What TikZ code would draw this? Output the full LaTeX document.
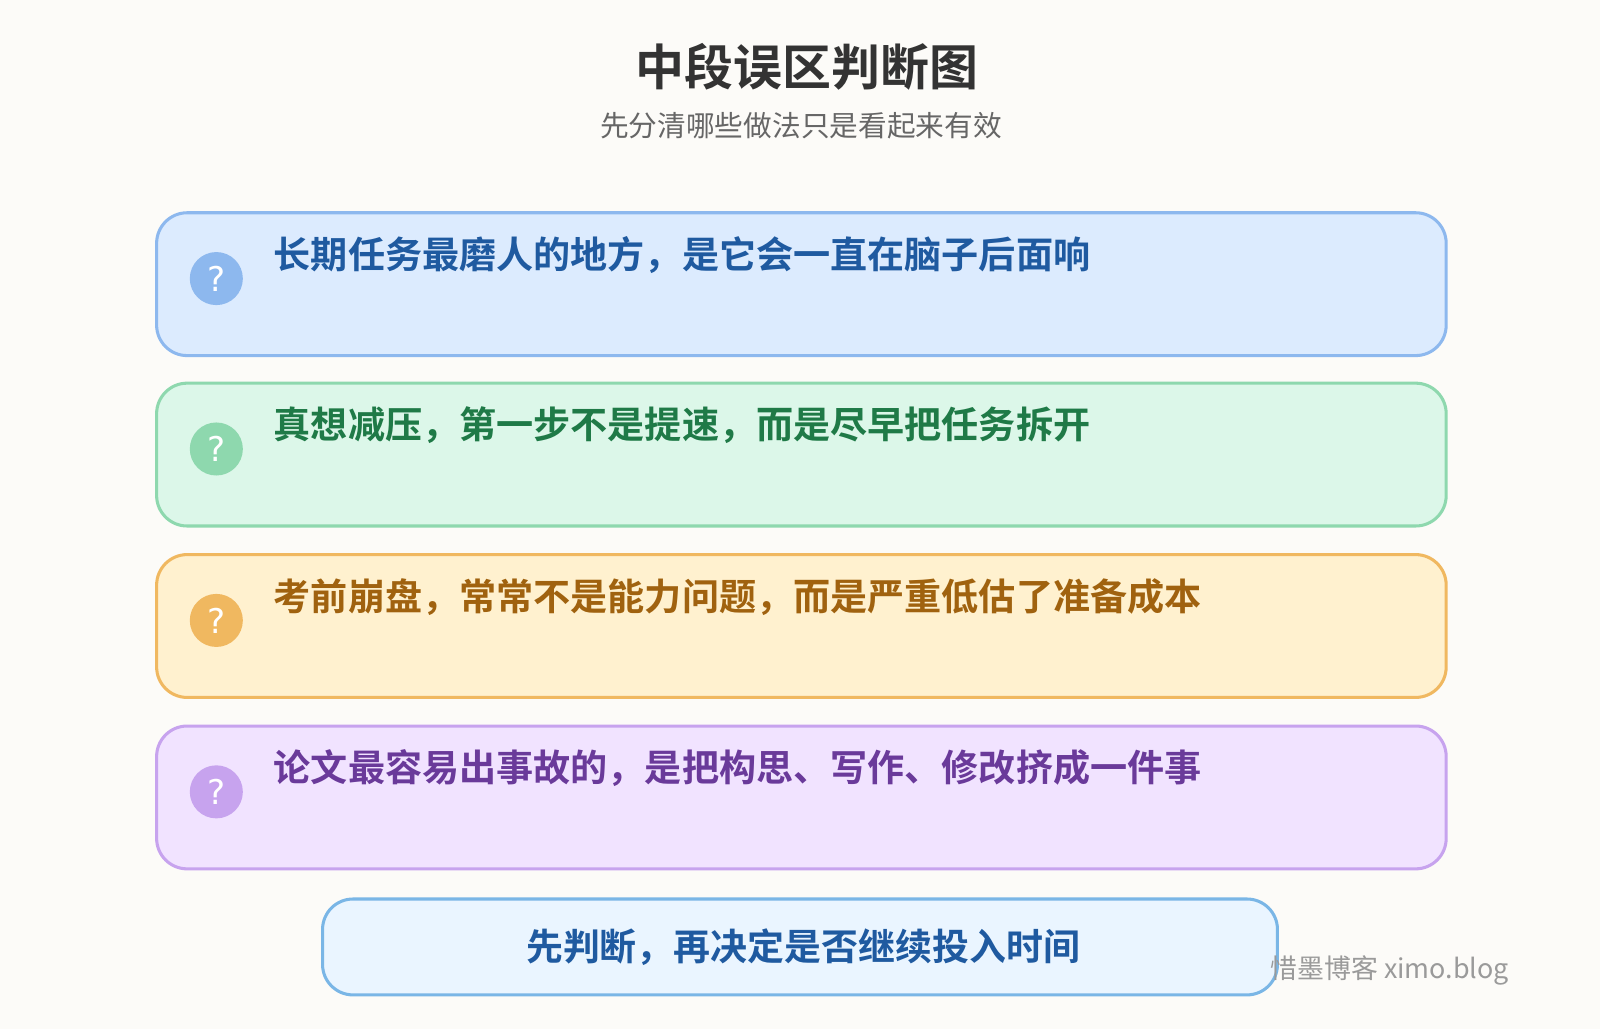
\documentclass[tikz,border=0pt]{standalone}
\usepackage{fontspec}
\setmainfont{Noto Sans CJK SC}
\newfontfamily\cjkbold{Noto Sans CJK SC Bold}
\newfontfamily\marksans{DejaVu Sans}
\usetikzlibrary{positioning}
\definecolor{bgcol}{HTML}{FCFBF8}
\definecolor{bluefill}{HTML}{DCEBFE}\definecolor{blueline}{HTML}{8DB8EE}\definecolor{bluetext}{HTML}{1F5AA0}
\definecolor{greenfill}{HTML}{DCF7E9}\definecolor{greenline}{HTML}{8ED8AE}\definecolor{greentext}{HTML}{1F7A47}
\definecolor{orangefill}{HTML}{FFF1CF}\definecolor{orangeline}{HTML}{F0B860}\definecolor{orangetext}{HTML}{A0620F}
\definecolor{purplefill}{HTML}{F1E3FF}\definecolor{purpleline}{HTML}{C7A3EE}\definecolor{purpletext}{HTML}{6A3A9A}
\definecolor{notefill}{HTML}{EAF5FF}\definecolor{noteline}{HTML}{7AB6E6}
\tikzset{
  card/.style={draw=#1line, fill=#1fill, line width=1.7pt, rounded corners=17pt,
    minimum width=25.28cm, minimum height=2.8cm, anchor=north west},
  mark/.style={circle, fill=#1line, minimum size=1.04cm, inner sep=0pt, text=white},
  cardtext/.style={anchor=base west, inner sep=0pt, text=#1text, font=\cjkbold\fontsize{20.7}{24}\selectfont},
}
\begin{document}
\begin{tikzpicture}[x=0.02cm,y=-0.02cm]
\fill[bgcol] (0,0) rectangle (1568,1008);
\useasboundingbox (0,0) rectangle (1568,1008);
\node (title) at (791,65) {\cjkbold\fontsize{27.3}{30}\selectfont\color[HTML]{333333}中段误区判断图};
\node (sub) at (785,123) {\fontsize{16}{19}\selectfont\color[HTML]{666666}先分清哪些做法只是看起来有效};
% cards
\foreach \c/\y/\t [count=\i] in {
  blue/207/长期任务最磨人的地方，是它会一直在脑子后面响,
  green/374/真想减压，第一步不是提速，而是尽早把任务拆开,
  orange/542/考前崩盘，常常不是能力问题，而是严重低估了准备成本,
  purple/710/论文最容易出事故的，是把构思、写作、修改挤成一件事}{
  \node[card=\c] (card\i) at (152,\y) {};
  \node[mark=\c] (mark\i) at (212,\y+66) {\marksans\fontsize{19}{21}\selectfont ?};
  \node[cardtext=\c] (text\i) at (268,\y+56) {\t};
}
\node[draw=noteline, fill=notefill, line width=1.7pt, rounded corners=17pt,
  minimum width=18.72cm, minimum height=1.88cm] (note) at (784,928) {};
\node (notetext) at (787,928)
  {\cjkbold\fontsize{20.6}{24}\selectfont\color{bluetext}先判断，再决定是否继续投入时间};
\node (mark) at (1362,951) {\fontsize{15}{17}\selectfont\color[HTML]{9A9A9A}惜墨博客 ximo.blog};
\end{tikzpicture}
\end{document}
